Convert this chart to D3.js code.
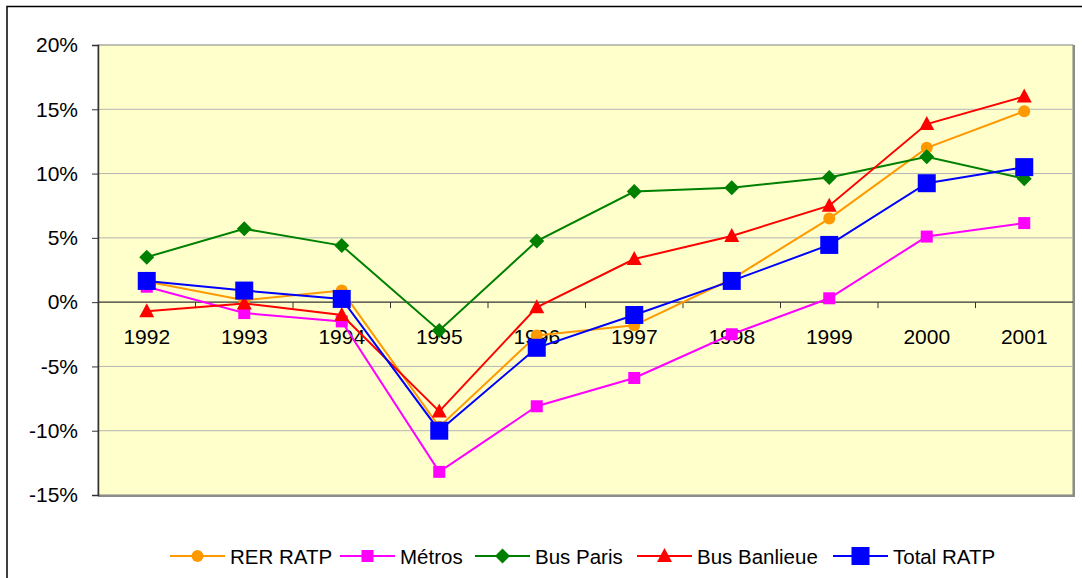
<!DOCTYPE html>
<html>
<head>
<meta charset="utf-8">
<script src="https://cdn.jsdelivr.net/npm/d3@7"></script>
<style>
  body { margin: 0; background: #fff; }
  svg text { font-family: "Liberation Sans", Arial, sans-serif; fill: #000; }
</style>
</head>
<body>
<div id="chart"></div>
<script>
// Years on the x axis
const years = ['1992', '1993', '1994', '1995', '1996', '1997', '1998', '1999', '2000', '2001'];

// Yearly change in %
const rerRatp    = [1.6, 0.15, 0.9, -9.7, -2.6, -1.8, 1.8, 6.5, 12.0, 14.85];
const metros     = [1.2, -0.85, -1.5, -13.2, -8.1, -5.9, -2.5, 0.3, 5.1, 6.15];
const busParis   = [3.5, 5.7, 4.4, -2.2, 4.75, 8.6, 8.9, 9.7, 11.3, 9.6];
const busBanlieue = [-0.7, -0.1, -1.0, -8.5, -0.4, 3.35, 5.15, 7.5, 13.85, 16.0];
const totalRatp  = [1.65, 0.9, 0.25, -10.0, -3.55, -1.0, 1.65, 4.45, 9.25, 10.5];

const yTicks = [-15, -10, -5, 0, 5, 10, 15, 20];

const series = [
  { name: 'RER RATP', values: rerRatp, color: '#ff9900', shape: 'circle' },
  { name: 'Métros', values: metros, color: '#ff00ff', shape: 'smallSquare' },
  { name: 'Bus Paris', values: busParis, color: '#008000', shape: 'diamond' },
  { name: 'Bus Banlieue', values: busBanlieue, color: '#ff0000', shape: 'triangle' },
  { name: 'Total RATP', values: totalRatp, color: '#0000ff', shape: 'bigSquare' }
];

const width = 1082, height = 578;
const plot = { left: 98, top: 45, right: 1073, bottom: 495 };

const svg = d3.select('#chart').append('svg')
  .attr('width', width)
  .attr('height', height);

// outer chart frame (goes off the right and bottom of the picture)
svg.append('path')
  .attr('d', `M7,${height + 5}V6.5H${width + 5}`)
  .attr('fill', 'none')
  .attr('stroke', '#000')
  .attr('stroke-width', 1.5);

const x = d3.scaleBand().domain(years).range([plot.left, plot.right]);
const y = d3.scaleLinear().domain([-15, 20]).range([plot.bottom, plot.top]);

// plot area background + shadow border
svg.append('rect')
  .attr('x', plot.left).attr('y', plot.top)
  .attr('width', plot.right - plot.left).attr('height', plot.bottom - plot.top)
  .attr('fill', '#ffffcc')
  .attr('stroke', '#808080').attr('stroke-width', 1);
svg.append('path')
  .attr('d', `M${plot.left},${plot.bottom + 1}H${plot.right + 1}V${plot.top}`)
  .attr('fill', 'none').attr('stroke', '#8c8c8c').attr('stroke-width', 2);

// gridlines
svg.append('g').selectAll('line')
  .data(yTicks.filter(d => d !== 0 && d !== 20 && d !== -15))
  .join('line')
  .attr('x1', plot.left).attr('x2', plot.right)
  .attr('y1', d => y(d)).attr('y2', d => y(d))
  .attr('stroke', '#b4b4b4').attr('stroke-width', 1);

// y axis
const yAxis = svg.append('g')
  .attr('transform', `translate(${plot.left},0)`)
  .call(d3.axisLeft(y).tickValues(yTicks).tickSize(6).tickPadding(14)
    .tickFormat(d => d + '%'));
yAxis.select('.domain').attr('stroke', '#333').attr('stroke-width', 1.5);
yAxis.selectAll('.tick line').attr('stroke', '#333');
yAxis.selectAll('.tick text')
  .attr('font-size', 21)
  .attr('font-family', '"Liberation Sans", Arial, sans-serif')
  .attr('fill', '#000');

// x axis along 0%: ticks at category boundaries, labels below
const boundaries = years.slice(1).map(d => x(d));
svg.append('line')
  .attr('x1', plot.left).attr('x2', plot.right)
  .attr('y1', y(0)).attr('y2', y(0))
  .attr('stroke', '#333').attr('stroke-width', 1.2);
svg.append('g').selectAll('line')
  .data(boundaries)
  .join('line')
  .attr('x1', d => d).attr('x2', d => d)
  .attr('y1', y(0)).attr('y2', y(0) + 6)
  .attr('stroke', '#333');
svg.append('g').selectAll('text')
  .data(years)
  .join('text')
  .attr('x', d => x(d) + x.bandwidth() / 2)
  .attr('y', y(0) + 42)
  .attr('text-anchor', 'middle')
  .attr('font-size', 21)
  .text(d => d);

// markers
function drawMarker(g, shape, color, cx, cy) {
  if (shape === 'circle') {
    g.append('circle').attr('cx', cx).attr('cy', cy).attr('r', 6).attr('fill', color);
  } else if (shape === 'smallSquare') {
    g.append('rect').attr('x', cx - 6).attr('y', cy - 6).attr('width', 12).attr('height', 12).attr('fill', color);
  } else if (shape === 'bigSquare') {
    g.append('rect').attr('x', cx - 9).attr('y', cy - 9).attr('width', 18).attr('height', 18).attr('fill', color);
  } else if (shape === 'diamond') {
    g.append('path').attr('d', `M${cx},${cy - 7.5}L${cx + 7.5},${cy}L${cx},${cy + 7.5}L${cx - 7.5},${cy}Z`).attr('fill', color);
  } else if (shape === 'triangle') {
    g.append('path').attr('d', `M${cx},${cy - 8}L${cx + 7.5},${cy + 6}L${cx - 7.5},${cy + 6}Z`).attr('fill', color);
  }
}

const line = d3.line()
  .x((d, i) => x(years[i]) + x.bandwidth() / 2)
  .y(d => y(d));

series.forEach(s => {
  const g = svg.append('g');
  g.append('path')
    .datum(s.values)
    .attr('d', line)
    .attr('fill', 'none')
    .attr('stroke', s.color)
    .attr('stroke-width', 2);
  s.values.forEach((v, i) => {
    drawMarker(g, s.shape, s.color, x(years[i]) + x.bandwidth() / 2, y(v));
  });
});

// legend
const legendX = [170, 340, 475, 637, 833];
const legendY = 556;
series.forEach((s, i) => {
  const g = svg.append('g');
  const lx = legendX[i];
  g.append('line')
    .attr('x1', lx).attr('x2', lx + 55)
    .attr('y1', legendY).attr('y2', legendY)
    .attr('stroke', s.color).attr('stroke-width', 2);
  drawMarker(g, s.shape, s.color, lx + 27.5, legendY);
  g.append('text')
    .attr('x', lx + 60)
    .attr('y', legendY + 8)
    .attr('font-size', 20.5)
    .text(s.name);
});
</script>
</body>
</html>
